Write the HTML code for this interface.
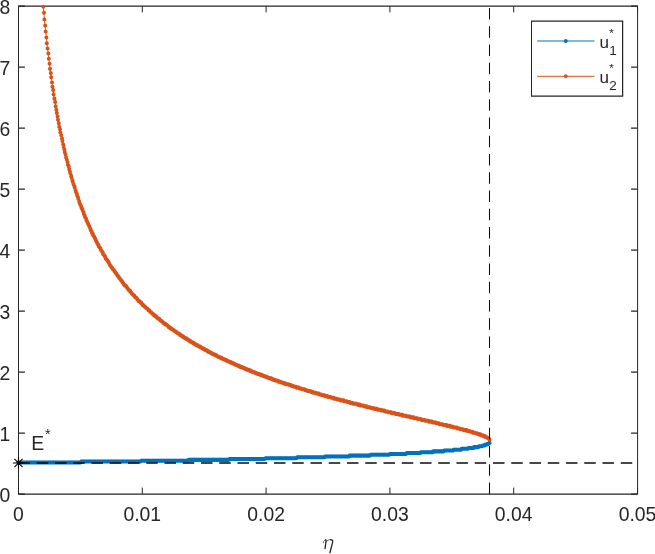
<!DOCTYPE html>
<html><head><meta charset="utf-8"><title>plot</title>
<style>
html,body{margin:0;padding:0;background:#fff;}
body{width:655px;height:554px;overflow:hidden;font-family:"Liberation Sans",sans-serif;}
svg{display:block;will-change:transform;}
text{font-family:"Liberation Sans",sans-serif;fill:#262626;}
.t{font-size:19.35px;}
</style></head><body>
<svg width="655" height="554" viewBox="0 0 655 554">
<rect width="655" height="554" fill="#fff"/>

<g stroke="#262626" fill="none">
<path d="M18.0,6.0H638.0 M18.0,494.0H638.0" stroke-width="1.25"/>
<path d="M18.5,6.0V494.0 M637.6,6.0V494.0" stroke-width="1"/>
<path d="M18.50,494.0v-6.4 M18.50,6.0v6.4 M142.30,494.0v-6.4 M142.30,6.0v6.4 M266.10,494.0v-6.4 M266.10,6.0v6.4 M389.90,494.0v-6.4 M389.90,6.0v6.4 M513.70,494.0v-6.4 M513.70,6.0v6.4 M637.50,494.0v-6.4 M637.50,6.0v6.4" stroke-width="1"/>
<path d="M18.5,494.06h6.4 M637.5,494.06h-6.4 M18.5,433.06h6.4 M637.5,433.06h-6.4 M18.5,372.06h6.4 M637.5,372.06h-6.4 M18.5,311.06h6.4 M637.5,311.06h-6.4 M18.5,250.06h6.4 M637.5,250.06h-6.4 M18.5,189.06h6.4 M637.5,189.06h-6.4 M18.5,128.06h6.4 M637.5,128.06h-6.4 M18.5,67.06h6.4 M637.5,67.06h-6.4 M18.5,6.06h6.4 M637.5,6.06h-6.4" stroke-width="1.3"/>
</g>
<g fill="none" stroke-linejoin="round">
<path d="M18.50,462.40 L19.12,462.40 L19.74,462.40 L20.36,462.40 L20.98,462.40 L21.59,462.40 L22.21,462.40 L22.83,462.40 L23.45,462.40 L24.07,462.40 L24.69,462.40 L25.31,462.39 L25.93,462.39 L26.55,462.39 L27.17,462.39 L27.79,462.39 L28.40,462.39 L29.02,462.39 L29.64,462.38 L30.26,462.38 L30.88,462.38 L31.50,462.38 L32.12,462.37 L32.74,462.37 L33.36,462.37 L33.98,462.37 L34.59,462.37 L35.21,462.36 L35.83,462.36 L36.45,462.36 L37.07,462.35 L37.69,462.35 L38.31,462.35 L38.93,462.34 L39.55,462.34 L40.16,462.34 L40.78,462.33 L41.40,462.33 L42.02,462.33 L42.64,462.32 L43.26,462.32 L43.88,462.32 L44.50,462.31 L45.12,462.31 L45.74,462.30 L46.36,462.30 L46.97,462.30 L47.59,462.29 L48.21,462.29 L48.83,462.28 L49.45,462.28 L50.07,462.27 L50.69,462.27 L51.31,462.26 L51.93,462.26 L52.55,462.25 L53.16,462.25 L53.78,462.24 L54.40,462.24 L55.02,462.23 L55.64,462.23 L56.26,462.22 L56.88,462.22 L57.50,462.21 L58.12,462.21 L58.74,462.20 L59.35,462.20 L59.97,462.19 L60.59,462.19 L61.21,462.18 L61.83,462.17 L62.45,462.17 L63.07,462.16 L63.69,462.16 L64.31,462.15 L64.93,462.15 L65.54,462.14 L66.16,462.13 L66.78,462.13 L67.40,462.12 L68.02,462.11 L68.64,462.11 L69.26,462.10 L69.88,462.10 L70.50,462.09 L71.12,462.08 L71.73,462.08 L72.35,462.07 L72.97,462.06 L73.59,462.06 L74.21,462.05 L74.83,462.04 L75.45,462.04 L76.07,462.03 L76.69,462.02 L77.31,462.02 L77.92,462.01 L78.54,462.00 L79.16,461.99 L79.78,461.99 L80.40,461.98 L81.02,461.97 L81.64,461.97 L82.26,461.96 L82.88,461.95 L83.50,461.94 L84.11,461.94 L84.73,461.93 L85.35,461.92 L85.97,461.91 L86.59,461.91 L87.21,461.90 L87.83,461.89 L88.45,461.88 L89.07,461.88 L89.69,461.87 L90.30,461.86 L90.92,461.85 L91.54,461.84 L92.16,461.84 L92.78,461.83 L93.40,461.82 L94.02,461.81 L94.64,461.80 L95.26,461.80 L95.88,461.79 L96.49,461.78 L97.11,461.77 L97.73,461.76 L98.35,461.76 L98.97,461.75 L99.59,461.74 L100.21,461.73 L100.83,461.72 L101.45,461.71 L102.06,461.71 L102.68,461.70 L103.30,461.69 L103.92,461.68 L104.54,461.67 L105.16,461.66 L105.78,461.65 L106.40,461.65 L107.02,461.64 L107.64,461.63 L108.26,461.62 L108.87,461.61 L109.49,461.60 L110.11,461.59 L110.73,461.58 L111.35,461.58 L111.97,461.57 L112.59,461.56 L113.21,461.55 L113.83,461.54 L114.44,461.53 L115.06,461.52 L115.68,461.51 L116.30,461.50 L116.92,461.49 L117.54,461.48 L118.16,461.48 L118.78,461.47 L119.40,461.46 L120.02,461.45 L120.64,461.44 L121.25,461.43 L121.87,461.42 L122.49,461.41 L123.11,461.40 L123.73,461.39 L124.35,461.38 L124.97,461.37 L125.59,461.36 L126.21,461.35 L126.83,461.34 L127.44,461.33 L128.06,461.32 L128.68,461.31 L129.30,461.31 L129.92,461.30 L130.54,461.29 L131.16,461.28 L131.78,461.27 L132.40,461.26 L133.02,461.25 L133.63,461.24 L134.25,461.23 L134.87,461.22 L135.49,461.21 L136.11,461.20 L136.73,461.19 L137.35,461.18 L137.97,461.17 L138.59,461.16 L139.20,461.15 L139.82,461.14 L140.44,461.13 L141.06,461.12 L141.68,461.11 L142.30,461.10 L142.92,461.09 L143.54,461.08 L144.16,461.07 L144.78,461.06 L145.40,461.04 L146.01,461.03 L146.63,461.02 L147.25,461.01 L147.87,461.00 L148.49,460.99 L149.11,460.98 L149.73,460.97 L150.35,460.96 L150.97,460.95 L151.59,460.94 L152.20,460.93 L152.82,460.92 L153.44,460.91 L154.06,460.90 L154.68,460.89 L155.30,460.88 L155.92,460.87 L156.54,460.85 L157.16,460.84 L157.78,460.83 L158.39,460.82 L159.01,460.81 L159.63,460.80 L160.25,460.79 L160.87,460.78 L161.49,460.77 L162.11,460.76 L162.73,460.75 L163.35,460.74 L163.97,460.72 L164.58,460.71 L165.20,460.70 L165.82,460.69 L166.44,460.68 L167.06,460.67 L167.68,460.66 L168.30,460.65 L168.92,460.63 L169.54,460.62 L170.16,460.61 L170.77,460.60 L171.39,460.59 L172.01,460.58 L172.63,460.57 L173.25,460.56 L173.87,460.54 L174.49,460.53 L175.11,460.52 L175.73,460.51 L176.34,460.50 L176.96,460.49 L177.58,460.48 L178.20,460.46 L178.82,460.45 L179.44,460.44 L180.06,460.43 L180.68,460.42 L181.30,460.41 L181.92,460.39 L182.54,460.38 L183.15,460.37 L183.77,460.36 L184.39,460.35 L185.01,460.33 L185.63,460.32 L186.25,460.31 L186.87,460.30 L187.49,460.29 L188.11,460.28 L188.72,460.26 L189.34,460.25 L189.96,460.24 L190.58,460.23 L191.20,460.22 L191.82,460.20 L192.44,460.19 L193.06,460.18 L193.68,460.17 L194.30,460.15 L194.92,460.14 L195.53,460.13 L196.15,460.12 L196.77,460.11 L197.39,460.09 L198.01,460.08 L198.63,460.07 L199.25,460.06 L199.87,460.04 L200.49,460.03 L201.11,460.02 L201.72,460.01 L202.34,459.99 L202.96,459.98 L203.58,459.97 L204.20,459.96 L204.82,459.94 L205.44,459.93 L206.06,459.92 L206.68,459.90 L207.30,459.89 L207.91,459.88 L208.53,459.87 L209.15,459.85 L209.77,459.84 L210.39,459.83 L211.01,459.82 L211.63,459.80 L212.25,459.79 L212.87,459.78 L213.49,459.76 L214.10,459.75 L214.72,459.74 L215.34,459.72 L215.96,459.71 L216.58,459.70 L217.20,459.68 L217.82,459.67 L218.44,459.66 L219.06,459.65 L219.68,459.63 L220.29,459.62 L220.91,459.61 L221.53,459.59 L222.15,459.58 L222.77,459.57 L223.39,459.55 L224.01,459.54 L224.63,459.52 L225.25,459.51 L225.87,459.50 L226.48,459.48 L227.10,459.47 L227.72,459.46 L228.34,459.44 L228.96,459.43 L229.58,459.42 L230.20,459.40 L230.82,459.39 L231.44,459.37 L232.06,459.36 L232.67,459.35 L233.29,459.33 L233.91,459.32 L234.53,459.30 L235.15,459.29 L235.77,459.28 L236.39,459.26 L237.01,459.25 L237.63,459.23 L238.25,459.22 L238.86,459.21 L239.48,459.19 L240.10,459.18 L240.72,459.16 L241.34,459.15 L241.96,459.13 L242.58,459.12 L243.20,459.11 L243.82,459.09 L244.44,459.08 L245.05,459.06 L245.67,459.05 L246.29,459.03 L246.91,459.02 L247.53,459.00 L248.15,458.99 L248.77,458.98 L249.39,458.96 L250.01,458.95 L250.62,458.93 L251.24,458.92 L251.86,458.90 L252.48,458.89 L253.10,458.87 L253.72,458.86 L254.34,458.84 L254.96,458.83 L255.58,458.81 L256.20,458.80 L256.81,458.78 L257.43,458.77 L258.05,458.75 L258.67,458.74 L259.29,458.72 L259.91,458.71 L260.53,458.69 L261.15,458.67 L261.77,458.66 L262.39,458.64 L263.00,458.63 L263.62,458.61 L264.24,458.60 L264.86,458.58 L265.48,458.57 L266.10,458.55 L266.72,458.53 L267.34,458.52 L267.96,458.50 L268.58,458.49 L269.20,458.47 L269.81,458.46 L270.43,458.44 L271.05,458.42 L271.67,458.41 L272.29,458.39 L272.91,458.38 L273.53,458.36 L274.15,458.34 L274.77,458.33 L275.38,458.31 L276.00,458.29 L276.62,458.28 L277.24,458.26 L277.86,458.25 L278.48,458.23 L279.10,458.21 L279.72,458.20 L280.34,458.18 L280.96,458.16 L281.58,458.15 L282.19,458.13 L282.81,458.11 L283.43,458.10 L284.05,458.08 L284.67,458.06 L285.29,458.05 L285.91,458.03 L286.53,458.01 L287.15,457.99 L287.77,457.98 L288.38,457.96 L289.00,457.94 L289.62,457.93 L290.24,457.91 L290.86,457.89 L291.48,457.87 L292.10,457.86 L292.72,457.84 L293.34,457.82 L293.96,457.80 L294.57,457.79 L295.19,457.77 L295.81,457.75 L296.43,457.73 L297.05,457.72 L297.67,457.70 L298.29,457.68 L298.91,457.66 L299.53,457.65 L300.14,457.63 L300.76,457.61 L301.38,457.59 L302.00,457.57 L302.62,457.55 L303.24,457.54 L303.86,457.52 L304.48,457.50 L305.10,457.48 L305.72,457.46 L306.33,457.44 L306.95,457.43 L307.57,457.41 L308.19,457.39 L308.81,457.37 L309.43,457.35 L310.05,457.33 L310.67,457.31 L311.29,457.30 L311.91,457.28 L312.52,457.26 L313.14,457.24 L313.76,457.22 L314.38,457.20 L315.00,457.18 L315.62,457.16 L316.24,457.14 L316.86,457.12 L317.48,457.10 L318.10,457.08 L318.72,457.06 L319.33,457.04 L319.95,457.03 L320.57,457.01 L321.19,456.99 L321.81,456.97 L322.43,456.95 L323.05,456.93 L323.67,456.91 L324.29,456.89 L324.91,456.87 L325.52,456.85 L326.14,456.83 L326.76,456.81 L327.38,456.78 L328.00,456.76 L328.62,456.74 L329.24,456.72 L329.86,456.70 L330.48,456.68 L331.10,456.66 L331.71,456.64 L332.33,456.62 L332.95,456.60 L333.57,456.58 L334.19,456.56 L334.81,456.54 L335.43,456.51 L336.05,456.49 L336.67,456.47 L337.29,456.45 L337.90,456.43 L338.52,456.41 L339.14,456.39 L339.76,456.36 L340.38,456.34 L341.00,456.32 L341.62,456.30 L342.24,456.28 L342.86,456.25 L343.48,456.23 L344.09,456.21 L344.71,456.19 L345.33,456.16 L345.95,456.14 L346.57,456.12 L347.19,456.10 L347.81,456.07 L348.43,456.05 L349.05,456.03 L349.67,456.01 L350.28,455.98 L350.90,455.96 L351.52,455.94 L352.14,455.91 L352.76,455.89 L353.38,455.87 L354.00,455.84 L354.62,455.82 L355.24,455.80 L355.86,455.77 L356.47,455.75 L357.09,455.72 L357.71,455.70 L358.33,455.68 L358.95,455.65 L359.57,455.63 L360.19,455.60 L360.81,455.58 L361.43,455.55 L362.05,455.53 L362.66,455.51 L363.28,455.48 L363.90,455.46 L364.52,455.43 L365.14,455.41 L365.76,455.38 L366.38,455.35 L367.00,455.33 L367.62,455.30 L368.24,455.28 L368.85,455.25 L369.47,455.23 L370.09,455.20 L370.71,455.17 L371.33,455.15 L371.95,455.12 L372.57,455.10 L373.19,455.07 L373.81,455.04 L374.43,455.02 L375.04,454.99 L375.66,454.96 L376.28,454.94 L376.90,454.91 L377.52,454.88 L378.14,454.85 L378.76,454.83 L379.38,454.80 L380.00,454.77 L380.62,454.74 L381.23,454.72 L381.85,454.69 L382.47,454.66 L383.09,454.63 L383.71,454.60 L384.33,454.57 L384.95,454.55 L385.57,454.52 L386.19,454.49 L386.81,454.46 L387.42,454.43 L388.04,454.40 L388.66,454.37 L389.28,454.34 L389.90,454.31 L390.52,454.28 L391.14,454.25 L391.76,454.22 L392.38,454.19 L393.00,454.16 L393.61,454.13 L394.23,454.10 L394.85,454.07 L395.47,454.04 L396.09,454.01 L396.71,453.97 L397.33,453.94 L397.95,453.91 L398.57,453.88 L399.19,453.85 L399.80,453.82 L400.42,453.78 L401.04,453.75 L401.66,453.72 L402.28,453.69 L402.90,453.65 L403.52,453.62 L404.14,453.59 L404.76,453.55 L405.38,453.52 L405.99,453.48 L406.61,453.45 L407.23,453.42 L407.85,453.38 L408.47,453.35 L409.09,453.31 L409.71,453.28 L410.33,453.24 L410.95,453.21 L411.56,453.17 L412.18,453.14 L412.80,453.10 L413.42,453.06 L414.04,453.03 L414.66,452.99 L415.28,452.95 L415.90,452.92 L416.52,452.88 L417.14,452.84 L417.75,452.80 L418.37,452.77 L418.99,452.73 L419.61,452.69 L420.23,452.65 L420.85,452.61 L421.47,452.57 L422.09,452.53 L422.71,452.49 L423.33,452.45 L423.94,452.41 L424.56,452.37 L425.18,452.33 L425.80,452.29 L426.42,452.25 L427.04,452.21 L427.66,452.16 L428.28,452.12 L428.90,452.08 L429.52,452.04 L430.14,451.99 L430.75,451.95 L431.37,451.90 L431.99,451.86 L432.61,451.82 L433.23,451.77 L433.85,451.73 L434.47,451.68 L435.09,451.63 L435.71,451.59 L436.33,451.54 L436.94,451.49 L437.56,451.45 L438.18,451.40 L438.80,451.35 L439.42,451.30 L440.04,451.25 L440.66,451.20 L441.28,451.15 L441.90,451.10 L442.52,451.05 L443.13,451.00 L443.75,450.95 L444.37,450.90 L444.99,450.84 L445.61,450.79 L446.23,450.74 L446.85,450.68 L447.47,450.63 L448.09,450.57 L448.71,450.52 L449.32,450.46 L449.94,450.40 L450.56,450.35 L451.18,450.29 L451.80,450.23 L452.42,450.17 L453.04,450.11 L453.66,450.05 L454.28,449.99 L454.90,449.92 L455.51,449.86 L456.13,449.80 L456.75,449.73 L457.37,449.67 L457.99,449.60 L458.61,449.54 L459.23,449.47 L459.85,449.40 L460.47,449.33 L461.09,449.26 L461.70,449.19 L462.32,449.11 L462.94,449.04 L463.56,448.97 L464.18,448.89 L464.80,448.81 L465.42,448.73 L466.04,448.65 L466.66,448.57 L467.28,448.49 L467.89,448.41 L468.51,448.32 L469.13,448.24 L469.75,448.15 L470.37,448.06 L470.99,447.96 L471.61,447.87 L472.23,447.78 L472.85,447.68 L473.47,447.58 L474.08,447.48 L474.70,447.37 L475.32,447.26 L475.94,447.15 L476.56,447.04 L477.18,446.92 L477.80,446.80 L478.42,446.68 L479.04,446.55 L479.65,446.42 L480.27,446.29 L480.89,446.15 L481.51,446.00 L482.13,445.85 L482.75,445.69 L483.37,445.52 L483.99,445.34 L484.61,445.16 L485.23,444.96 L485.84,444.75 L486.46,444.52 L487.08,444.27 L487.70,444.00 L488.32,443.69 L488.94,443.32 L489.56,442.87" stroke="#0072BD" stroke-width="1"/>
<path transform="scale(1,1.0)" d="M18.40,462.40h0 M19.20,462.40h0 M19.60,462.40h0 M20.40,462.40h0 M20.80,462.40h0 M21.60,462.40h0 M22.40,462.40h0 M22.80,462.40h0 M23.60,462.40h0 M24.00,462.40h0 M24.80,462.40h0 M25.20,462.40h0 M26.00,462.40h0 M26.40,462.40h0 M27.20,462.40h0 M27.60,462.40h0 M28.40,462.40h0 M29.20,462.40h0 M29.60,462.40h0 M30.40,462.40h0 M30.80,462.40h0 M31.60,462.40h0 M32.00,462.40h0 M32.80,462.40h0 M33.20,462.40h0 M34.00,462.40h0 M34.40,462.40h0 M35.20,462.40h0 M36.00,462.40h0 M36.40,462.40h0 M37.20,462.40h0 M37.60,462.40h0 M38.40,462.40h0 M38.80,462.40h0 M39.60,462.40h0 M40.00,462.40h0 M40.80,462.40h0 M41.60,462.40h0 M42.00,462.40h0 M42.80,462.40h0 M43.20,462.40h0 M44.00,462.40h0 M44.40,462.40h0 M45.20,462.40h0 M45.60,462.40h0 M46.40,462.40h0 M46.80,462.40h0 M47.60,462.40h0 M48.40,462.40h0 M48.80,462.40h0 M49.60,462.40h0 M50.00,462.40h0 M50.80,462.40h0 M51.20,462.40h0 M52.00,462.40h0 M52.40,462.40h0 M53.20,462.40h0 M53.60,462.40h0 M54.40,462.40h0 M55.20,462.40h0 M55.60,462.40h0 M56.40,462.40h0 M56.80,462.40h0 M57.60,462.40h0 M58.00,462.40h0 M58.80,462.40h0 M59.20,462.40h0 M60.00,462.40h0 M60.40,462.40h0 M61.20,462.40h0 M62.00,462.40h0 M62.40,462.40h0 M63.20,462.40h0 M63.60,462.40h0 M64.40,462.40h0 M64.80,462.40h0 M65.60,462.40h0 M66.00,462.40h0 M66.80,462.40h0 M67.60,462.40h0 M68.00,462.40h0 M68.80,462.40h0 M69.20,462.40h0 M70.00,462.40h0 M70.40,462.40h0 M71.20,462.40h0 M71.60,462.40h0 M72.40,462.40h0 M72.80,462.40h0 M73.60,462.40h0 M74.40,462.40h0 M74.80,462.40h0 M75.60,462.40h0 M76.00,462.40h0 M76.80,462.40h0 M77.20,462.40h0 M78.00,462.40h0 M78.40,462.40h0 M79.20,462.40h0 M79.60,462.40h0 M80.40,462.40h0 M81.20,461.55h0 M81.60,461.55h0 M82.40,461.55h0 M82.80,461.55h0 M83.60,461.55h0 M84.00,461.55h0 M84.80,461.55h0 M85.20,461.55h0 M86.00,461.55h0 M86.40,461.55h0 M87.20,461.55h0 M88.00,461.55h0 M88.40,461.55h0 M89.20,461.55h0 M89.60,461.55h0 M90.40,461.55h0 M90.80,461.55h0 M91.60,461.55h0 M92.00,461.55h0 M92.80,461.55h0 M93.20,461.55h0 M94.00,461.55h0 M94.80,461.55h0 M95.20,461.55h0 M96.00,461.55h0 M96.40,461.55h0 M97.20,461.55h0 M97.60,461.55h0 M98.40,461.55h0 M98.80,461.55h0 M99.60,461.55h0 M100.40,461.55h0 M100.80,461.55h0 M101.60,461.55h0 M102.00,461.55h0 M102.80,461.55h0 M103.20,461.55h0 M104.00,461.55h0 M104.40,461.55h0 M105.20,461.55h0 M105.60,461.55h0 M106.40,461.55h0 M107.20,461.55h0 M107.60,461.55h0 M108.40,461.55h0 M108.80,461.55h0 M109.60,461.55h0 M110.00,461.55h0 M110.80,461.55h0 M111.20,461.55h0 M112.00,461.55h0 M112.40,461.55h0 M113.20,461.55h0 M114.00,461.55h0 M114.40,461.55h0 M115.20,461.55h0 M115.60,461.55h0 M116.40,461.55h0 M116.80,461.55h0 M117.60,461.55h0 M118.00,461.55h0 M118.80,461.55h0 M119.20,461.55h0 M120.00,461.55h0 M120.80,461.55h0 M121.20,461.55h0 M122.00,461.55h0 M122.40,461.55h0 M123.20,461.55h0 M123.60,461.55h0 M124.40,461.55h0 M124.80,461.55h0 M125.60,461.55h0 M126.40,461.55h0 M126.80,461.55h0 M127.60,461.55h0 M128.00,461.55h0 M128.80,461.55h0 M129.20,461.55h0 M130.00,461.55h0 M130.40,461.55h0 M131.20,461.55h0 M131.60,461.55h0 M132.40,461.55h0 M133.20,461.55h0 M133.60,461.55h0 M134.40,461.55h0 M134.80,461.55h0 M135.60,461.55h0 M136.00,461.55h0 M136.80,461.55h0 M137.20,461.55h0 M138.00,461.55h0 M138.40,461.55h0 M139.20,461.55h0 M140.00,461.55h0 M140.40,461.55h0 M141.20,460.70h0 M141.60,460.70h0 M142.40,460.70h0 M142.80,460.70h0 M143.60,460.70h0 M144.00,460.70h0 M144.80,460.70h0 M145.20,460.70h0 M146.00,460.70h0 M146.80,460.70h0 M147.20,460.70h0 M148.00,460.70h0 M148.40,460.70h0 M149.20,460.70h0 M149.60,460.70h0 M150.40,460.70h0 M150.80,460.70h0 M151.60,460.70h0 M152.40,460.70h0 M152.80,460.70h0 M153.60,460.70h0 M154.00,460.70h0 M154.80,460.70h0 M155.20,460.70h0 M156.00,460.70h0 M156.40,460.70h0 M157.20,460.70h0 M157.60,460.70h0 M158.40,460.70h0 M159.20,460.70h0 M159.60,460.70h0 M160.40,460.70h0 M160.80,460.70h0 M161.60,460.70h0 M162.00,460.70h0 M162.80,460.70h0 M163.20,460.70h0 M164.00,460.70h0 M164.40,460.70h0 M165.20,460.70h0 M166.00,460.70h0 M166.40,460.70h0 M167.20,460.70h0 M167.60,460.70h0 M168.40,460.70h0 M168.80,460.70h0 M169.60,460.70h0 M170.00,460.70h0 M170.80,460.70h0 M171.20,460.70h0 M172.00,460.70h0 M172.80,460.70h0 M173.20,460.70h0 M174.00,460.70h0 M174.40,460.70h0 M175.20,460.70h0 M175.60,460.70h0 M176.40,460.70h0 M176.80,460.70h0 M177.60,460.70h0 M178.40,460.70h0 M178.80,460.70h0 M179.60,460.70h0 M180.00,460.70h0 M180.80,460.70h0 M181.20,460.70h0 M182.00,460.70h0 M182.40,460.70h0 M183.20,460.70h0 M183.60,460.70h0 M184.40,460.70h0 M185.20,460.70h0 M185.60,460.70h0 M186.40,460.70h0 M186.80,460.70h0 M187.60,460.70h0 M188.00,460.70h0 M188.80,459.85h0 M189.20,459.85h0 M190.00,459.85h0 M190.40,459.85h0 M191.20,459.85h0 M192.00,459.85h0 M192.40,459.85h0 M193.20,459.85h0 M193.60,459.85h0 M194.40,459.85h0 M194.80,459.85h0 M195.60,459.85h0 M196.00,459.85h0 M196.80,459.85h0 M197.20,459.85h0 M198.00,459.85h0 M198.80,459.85h0 M199.20,459.85h0 M200.00,459.85h0 M200.40,459.85h0 M201.20,459.85h0 M201.60,459.85h0 M202.40,459.85h0 M202.80,459.85h0 M203.60,459.85h0 M204.00,459.85h0 M204.80,459.85h0 M205.60,459.85h0 M206.00,459.85h0 M206.80,459.85h0 M207.20,459.85h0 M208.00,459.85h0 M208.40,459.85h0 M209.20,459.85h0 M209.60,459.85h0 M210.40,459.85h0 M211.20,459.85h0 M211.60,459.85h0 M212.40,459.85h0 M212.80,459.85h0 M213.60,459.85h0 M214.00,459.85h0 M214.80,459.85h0 M215.20,459.85h0 M216.00,459.85h0 M216.40,459.85h0 M217.20,459.85h0 M218.00,459.85h0 M218.40,459.85h0 M219.20,459.85h0 M219.60,459.85h0 M220.40,459.85h0 M220.80,459.85h0 M221.60,459.85h0 M222.00,459.85h0 M222.80,459.85h0 M223.20,459.85h0 M224.00,459.85h0 M224.80,459.85h0 M225.20,459.85h0 M226.00,459.85h0 M226.40,459.85h0 M227.20,459.85h0 M227.60,459.85h0 M228.40,459.85h0 M228.80,459.85h0 M229.60,459.00h0 M230.00,459.00h0 M230.80,459.00h0 M231.60,459.00h0 M232.00,459.00h0 M232.80,459.00h0 M233.20,459.00h0 M234.00,459.00h0 M234.40,459.00h0 M235.20,459.00h0 M235.60,459.00h0 M236.40,459.00h0 M237.20,459.00h0 M237.60,459.00h0 M238.40,459.00h0 M238.80,459.00h0 M239.60,459.00h0 M240.00,459.00h0 M240.80,459.00h0 M241.20,459.00h0 M242.00,459.00h0 M242.40,459.00h0 M243.20,459.00h0 M244.00,459.00h0 M244.40,459.00h0 M245.20,459.00h0 M245.60,459.00h0 M246.40,459.00h0 M246.80,459.00h0 M247.60,459.00h0 M248.00,459.00h0 M248.80,459.00h0 M249.20,459.00h0 M250.00,459.00h0 M250.80,459.00h0 M251.20,459.00h0 M252.00,459.00h0 M252.40,459.00h0 M253.20,459.00h0 M253.60,459.00h0 M254.40,459.00h0 M254.80,459.00h0 M255.60,459.00h0 M256.00,459.00h0 M256.80,459.00h0 M257.60,459.00h0 M258.00,459.00h0 M258.80,459.00h0 M259.20,459.00h0 M260.00,459.00h0 M260.40,459.00h0 M261.20,459.00h0 M261.60,459.00h0 M262.40,459.00h0 M263.20,459.00h0 M263.60,459.00h0 M264.40,459.00h0 M264.80,459.00h0 M265.60,458.15h0 M266.00,458.15h0 M266.80,458.15h0 M267.20,458.15h0 M268.00,458.15h0 M268.40,458.15h0 M269.20,458.15h0 M270.00,458.15h0 M270.40,458.15h0 M271.20,458.15h0 M271.60,458.15h0 M272.40,458.15h0 M272.80,458.15h0 M273.60,458.15h0 M274.00,458.15h0 M274.80,458.15h0 M275.20,458.15h0 M276.00,458.15h0 M276.80,458.15h0 M277.20,458.15h0 M278.00,458.15h0 M278.40,458.15h0 M279.20,458.15h0 M279.60,458.15h0 M280.40,458.15h0 M280.80,458.15h0 M281.60,458.15h0 M282.00,458.15h0 M282.80,458.15h0 M283.60,458.15h0 M284.00,458.15h0 M284.80,458.15h0 M285.20,458.15h0 M286.00,458.15h0 M286.40,458.15h0 M287.20,458.15h0 M287.60,458.15h0 M288.40,458.15h0 M289.20,458.15h0 M289.60,458.15h0 M290.40,458.15h0 M290.80,458.15h0 M291.60,458.15h0 M292.00,458.15h0 M292.80,458.15h0 M293.20,458.15h0 M294.00,458.15h0 M294.40,458.15h0 M295.20,458.15h0 M296.00,458.15h0 M296.40,458.15h0 M297.20,457.30h0 M297.60,457.30h0 M298.40,457.30h0 M298.80,457.30h0 M299.60,457.30h0 M300.00,457.30h0 M300.80,457.30h0 M301.20,457.30h0 M302.00,457.30h0 M302.80,457.30h0 M303.20,457.30h0 M304.00,457.30h0 M304.40,457.30h0 M305.20,457.30h0 M305.60,457.30h0 M306.40,457.30h0 M306.80,457.30h0 M307.60,457.30h0 M308.00,457.30h0 M308.80,457.30h0 M309.60,457.30h0 M310.00,457.30h0 M310.80,457.30h0 M311.20,457.30h0 M312.00,457.30h0 M312.40,457.30h0 M313.20,457.30h0 M313.60,457.30h0 M314.40,457.30h0 M315.20,457.30h0 M315.60,457.30h0 M316.40,457.30h0 M316.80,457.30h0 M317.60,457.30h0 M318.00,457.30h0 M318.80,457.30h0 M319.20,457.30h0 M320.00,457.30h0 M320.40,457.30h0 M321.20,457.30h0 M322.00,457.30h0 M322.40,457.30h0 M323.20,457.30h0 M323.60,457.30h0 M324.40,457.30h0 M324.80,456.45h0 M325.60,456.45h0 M326.00,456.45h0 M326.80,456.45h0 M327.20,456.45h0 M328.00,456.45h0 M328.80,456.45h0 M329.20,456.45h0 M330.00,456.45h0 M330.40,456.45h0 M331.20,456.45h0 M331.60,456.45h0 M332.40,456.45h0 M332.80,456.45h0 M333.60,456.45h0 M334.00,456.45h0 M334.80,456.45h0 M335.60,456.45h0 M336.00,456.45h0 M336.80,456.45h0 M337.20,456.45h0 M338.00,456.45h0 M338.40,456.45h0 M339.20,456.45h0 M339.60,456.45h0 M340.40,456.45h0 M340.80,456.45h0 M341.60,456.45h0 M342.40,456.45h0 M342.80,456.45h0 M343.60,456.45h0 M344.00,456.45h0 M344.80,456.45h0 M345.20,456.45h0 M346.00,456.45h0 M346.40,456.45h0 M347.20,456.45h0 M348.00,456.45h0 M348.40,456.45h0 M349.20,456.45h0 M349.60,455.60h0 M350.40,455.60h0 M350.80,455.60h0 M351.60,455.60h0 M352.00,455.60h0 M352.80,455.60h0 M353.20,455.60h0 M354.00,455.60h0 M354.80,455.60h0 M355.20,455.60h0 M356.00,455.60h0 M356.40,455.60h0 M357.20,455.60h0 M357.60,455.60h0 M358.40,455.60h0 M358.80,455.60h0 M359.60,455.60h0 M360.00,455.60h0 M360.80,455.60h0 M361.60,455.60h0 M362.00,455.60h0 M362.80,455.60h0 M363.20,455.60h0 M364.00,455.60h0 M364.40,455.60h0 M365.20,455.60h0 M365.60,455.60h0 M366.40,455.60h0 M366.80,455.60h0 M367.60,455.60h0 M368.40,455.60h0 M368.80,455.60h0 M369.60,455.60h0 M370.00,455.60h0 M370.80,454.75h0 M371.20,454.75h0 M372.00,454.75h0 M372.40,454.75h0 M373.20,454.75h0 M374.00,454.75h0 M374.40,454.75h0 M375.20,454.75h0 M375.60,454.75h0 M376.40,454.75h0 M376.80,454.75h0 M377.60,454.75h0 M378.00,454.75h0 M378.80,454.75h0 M379.20,454.75h0 M380.00,454.75h0 M380.80,454.75h0 M381.20,454.75h0 M382.00,454.75h0 M382.40,454.75h0 M383.20,454.75h0 M383.60,454.75h0 M384.40,454.75h0 M384.80,454.75h0 M385.60,454.75h0 M386.00,454.75h0 M386.80,454.75h0 M387.60,454.75h0 M388.00,454.75h0 M388.80,454.75h0 M389.20,454.75h0 M390.00,453.90h0 M390.40,453.90h0 M391.20,453.90h0 M391.60,453.90h0 M392.40,453.90h0 M392.80,453.90h0 M393.60,453.90h0 M394.40,453.90h0 M394.80,453.90h0 M395.60,453.90h0 M396.00,453.90h0 M396.80,453.90h0 M397.20,453.90h0 M398.00,453.90h0 M398.40,453.90h0 M399.20,453.90h0 M400.00,453.90h0 M400.40,453.90h0 M401.20,453.90h0 M401.60,453.90h0 M402.40,453.90h0 M402.80,453.90h0 M403.60,453.90h0 M404.00,453.90h0 M404.80,453.90h0 M405.20,453.90h0 M406.00,453.90h0 M406.80,453.05h0 M407.20,453.05h0 M408.00,453.05h0 M408.40,453.05h0 M409.20,453.05h0 M409.60,453.05h0 M410.40,453.05h0 M410.80,453.05h0 M411.60,453.05h0 M412.00,453.05h0 M412.80,453.05h0 M413.60,453.05h0 M414.00,453.05h0 M414.80,453.05h0 M415.20,453.05h0 M416.00,453.05h0 M416.40,453.05h0 M417.20,453.05h0 M417.60,453.05h0 M418.40,453.05h0 M418.80,453.05h0 M419.60,453.05h0 M420.40,453.05h0 M420.80,452.20h0 M421.60,452.20h0 M422.00,452.20h0 M422.80,452.20h0 M423.20,452.20h0 M424.00,452.20h0 M424.40,452.20h0 M425.20,452.20h0 M426.00,452.20h0 M426.40,452.20h0 M427.20,452.20h0 M427.60,452.20h0 M428.40,452.20h0 M428.80,452.20h0 M429.60,452.20h0 M430.00,452.20h0 M430.80,452.20h0 M431.20,452.20h0 M432.00,452.20h0 M432.80,452.20h0 M433.20,451.35h0 M434.00,451.35h0 M434.40,451.35h0 M435.20,451.35h0 M435.60,451.35h0 M436.40,451.35h0 M436.80,451.35h0 M437.60,451.35h0 M438.00,451.35h0 M438.80,451.35h0 M439.60,451.35h0 M440.00,451.35h0 M440.80,451.35h0 M441.20,451.35h0 M442.00,451.35h0 M442.40,451.35h0 M443.20,451.35h0 M443.60,451.35h0 M444.40,450.50h0 M444.80,450.50h0 M445.60,450.50h0 M446.40,450.50h0 M446.80,450.50h0 M447.60,450.50h0 M448.00,450.50h0 M448.80,450.50h0 M449.20,450.50h0 M450.00,450.50h0 M450.40,450.50h0 M451.20,450.50h0 M452.00,450.50h0 M452.40,450.50h0 M453.20,450.50h0 M453.60,449.65h0 M454.40,449.65h0 M454.80,449.65h0 M455.60,449.65h0 M456.00,449.65h0 M456.80,449.65h0 M457.20,449.65h0 M458.00,449.65h0 M458.80,449.65h0 M459.20,449.65h0 M460.00,449.65h0 M460.40,449.65h0 M461.20,449.65h0 M461.60,448.80h0 M462.40,448.80h0 M462.80,448.80h0 M463.60,448.80h0 M464.00,448.80h0 M464.80,448.80h0 M465.60,448.80h0 M466.00,448.80h0 M466.80,448.80h0 M467.20,448.80h0 M468.00,448.80h0 M468.40,447.95h0 M469.20,447.95h0 M469.60,447.95h0 M470.40,447.95h0 M470.80,447.95h0 M471.60,447.95h0 M472.40,447.95h0 M472.80,447.95h0 M473.60,447.95h0 M474.00,447.10h0 M474.80,447.10h0 M475.20,447.10h0 M476.00,447.10h0 M476.40,447.10h0 M477.20,447.10h0 M477.60,447.10h0 M478.40,447.10h0 M479.20,446.25h0 M479.60,446.25h0 M480.40,446.25h0 M480.80,446.25h0 M481.60,446.25h0 M482.00,446.25h0 M482.80,445.40h0 M483.20,445.40h0 M484.00,445.40h0 M484.80,445.40h0 M485.20,444.55h0 M486.00,444.55h0 M486.40,444.55h0 M487.20,444.55h0 M487.60,443.70h0 M488.40,443.70h0 M488.80,443.70h0 M489.60,442.85h0" stroke="#0072BD" stroke-width="4.05" stroke-linecap="round"/>
<path d="M43.26,6.46 L43.88,13.17 L44.50,19.62 L45.12,25.84 L45.74,31.84 L46.36,37.64 L46.97,43.23 L47.59,48.65 L48.21,53.88 L48.83,58.95 L49.45,63.87 L50.07,68.64 L50.69,73.26 L51.31,77.75 L51.93,82.11 L52.55,86.35 L53.16,90.47 L53.78,94.49 L54.40,98.39 L55.02,102.20 L55.64,105.90 L56.26,109.52 L56.88,113.04 L57.50,116.48 L58.12,119.84 L58.74,123.12 L59.35,126.32 L59.97,129.45 L60.59,132.51 L61.21,135.50 L61.83,138.42 L62.45,141.29 L63.07,144.09 L63.69,146.84 L64.31,149.52 L64.93,152.16 L65.54,154.74 L66.16,157.27 L66.78,159.75 L67.40,162.18 L68.02,164.57 L68.64,166.91 L69.26,169.21 L69.88,171.47 L70.50,173.69 L71.12,175.86 L71.73,178.00 L72.35,180.10 L72.97,182.17 L73.59,184.20 L74.21,186.20 L74.83,188.16 L75.45,190.09 L76.07,191.99 L76.69,193.86 L77.31,195.70 L77.92,197.52 L78.54,199.30 L79.16,201.06 L79.78,202.79 L80.40,204.49 L81.02,206.17 L81.64,207.83 L82.26,209.46 L82.88,211.07 L83.50,212.65 L84.11,214.21 L84.73,215.76 L85.35,217.28 L85.97,218.77 L86.59,220.25 L87.21,221.71 L87.83,223.15 L88.45,224.57 L89.07,225.97 L89.69,227.36 L90.30,228.72 L90.92,230.07 L91.54,231.40 L92.16,232.72 L92.78,234.02 L93.40,235.30 L94.02,236.57 L94.64,237.82 L95.26,239.05 L95.88,240.28 L96.49,241.48 L97.11,242.68 L97.73,243.86 L98.35,245.02 L98.97,246.18 L99.59,247.32 L100.21,248.44 L100.83,249.56 L101.45,250.66 L102.06,251.75 L102.68,252.83 L103.30,253.89 L103.92,254.95 L104.54,255.99 L105.16,257.02 L105.78,258.05 L106.40,259.06 L107.02,260.06 L107.64,261.05 L108.26,262.03 L108.87,263.00 L109.49,263.96 L110.11,264.91 L110.73,265.85 L111.35,266.78 L111.97,267.71 L112.59,268.62 L113.21,269.53 L113.83,270.42 L114.44,271.31 L115.06,272.19 L115.68,273.06 L116.30,273.92 L116.92,274.78 L117.54,275.63 L118.16,276.46 L118.78,277.30 L119.40,278.12 L120.02,278.94 L120.64,279.75 L121.25,280.55 L121.87,281.34 L122.49,282.13 L123.11,282.91 L123.73,283.69 L124.35,284.46 L124.97,285.22 L125.59,285.97 L126.21,286.72 L126.83,287.46 L127.44,288.20 L128.06,288.93 L128.68,289.65 L129.30,290.37 L129.92,291.08 L130.54,291.79 L131.16,292.49 L131.78,293.18 L132.40,293.87 L133.02,294.56 L133.63,295.23 L134.25,295.91 L134.87,296.58 L135.49,297.24 L136.11,297.90 L136.73,298.55 L137.35,299.20 L137.97,299.84 L138.59,300.48 L139.20,301.11 L139.82,301.74 L140.44,302.36 L141.06,302.98 L141.68,303.59 L142.30,304.20 L142.92,304.81 L143.54,305.41 L144.16,306.01 L144.78,306.60 L145.40,307.19 L146.01,307.77 L146.63,308.35 L147.25,308.93 L147.87,309.50 L148.49,310.07 L149.11,310.63 L149.73,311.19 L150.35,311.75 L150.97,312.30 L151.59,312.85 L152.20,313.39 L152.82,313.93 L153.44,314.47 L154.06,315.00 L154.68,315.53 L155.30,316.06 L155.92,316.59 L156.54,317.11 L157.16,317.62 L157.78,318.14 L158.39,318.65 L159.01,319.15 L159.63,319.66 L160.25,320.16 L160.87,320.65 L161.49,321.15 L162.11,321.64 L162.73,322.13 L163.35,322.61 L163.97,323.09 L164.58,323.57 L165.20,324.05 L165.82,324.52 L166.44,324.99 L167.06,325.46 L167.68,325.92 L168.30,326.38 L168.92,326.84 L169.54,327.30 L170.16,327.75 L170.77,328.20 L171.39,328.65 L172.01,329.10 L172.63,329.54 L173.25,329.98 L173.87,330.42 L174.49,330.86 L175.11,331.29 L175.73,331.72 L176.34,332.15 L176.96,332.57 L177.58,333.00 L178.20,333.42 L178.82,333.84 L179.44,334.25 L180.06,334.67 L180.68,335.08 L181.30,335.49 L181.92,335.90 L182.54,336.30 L183.15,336.70 L183.77,337.10 L184.39,337.50 L185.01,337.90 L185.63,338.29 L186.25,338.69 L186.87,339.08 L187.49,339.46 L188.11,339.85 L188.72,340.23 L189.34,340.62 L189.96,341.00 L190.58,341.37 L191.20,341.75 L191.82,342.13 L192.44,342.50 L193.06,342.87 L193.68,343.24 L194.30,343.60 L194.92,343.97 L195.53,344.33 L196.15,344.69 L196.77,345.05 L197.39,345.41 L198.01,345.77 L198.63,346.12 L199.25,346.47 L199.87,346.82 L200.49,347.17 L201.11,347.52 L201.72,347.87 L202.34,348.21 L202.96,348.55 L203.58,348.89 L204.20,349.23 L204.82,349.57 L205.44,349.91 L206.06,350.24 L206.68,350.57 L207.30,350.91 L207.91,351.24 L208.53,351.56 L209.15,351.89 L209.77,352.22 L210.39,352.54 L211.01,352.86 L211.63,353.18 L212.25,353.50 L212.87,353.82 L213.49,354.14 L214.10,354.45 L214.72,354.77 L215.34,355.08 L215.96,355.39 L216.58,355.70 L217.20,356.01 L217.82,356.32 L218.44,356.62 L219.06,356.93 L219.68,357.23 L220.29,357.53 L220.91,357.83 L221.53,358.13 L222.15,358.43 L222.77,358.73 L223.39,359.02 L224.01,359.32 L224.63,359.61 L225.25,359.90 L225.87,360.19 L226.48,360.48 L227.10,360.77 L227.72,361.05 L228.34,361.34 L228.96,361.63 L229.58,361.91 L230.20,362.19 L230.82,362.47 L231.44,362.75 L232.06,363.03 L232.67,363.31 L233.29,363.59 L233.91,363.86 L234.53,364.14 L235.15,364.41 L235.77,364.68 L236.39,364.95 L237.01,365.22 L237.63,365.49 L238.25,365.76 L238.86,366.03 L239.48,366.29 L240.10,366.56 L240.72,366.82 L241.34,367.09 L241.96,367.35 L242.58,367.61 L243.20,367.87 L243.82,368.13 L244.44,368.39 L245.05,368.64 L245.67,368.90 L246.29,369.15 L246.91,369.41 L247.53,369.66 L248.15,369.91 L248.77,370.17 L249.39,370.42 L250.01,370.67 L250.62,370.91 L251.24,371.16 L251.86,371.41 L252.48,371.66 L253.10,371.90 L253.72,372.15 L254.34,372.39 L254.96,372.63 L255.58,372.87 L256.20,373.11 L256.81,373.35 L257.43,373.59 L258.05,373.83 L258.67,374.07 L259.29,374.31 L259.91,374.54 L260.53,374.78 L261.15,375.01 L261.77,375.25 L262.39,375.48 L263.00,375.71 L263.62,375.94 L264.24,376.17 L264.86,376.40 L265.48,376.63 L266.10,376.86 L266.72,377.09 L267.34,377.31 L267.96,377.54 L268.58,377.76 L269.20,377.99 L269.81,378.21 L270.43,378.43 L271.05,378.66 L271.67,378.88 L272.29,379.10 L272.91,379.32 L273.53,379.54 L274.15,379.76 L274.77,379.98 L275.38,380.19 L276.00,380.41 L276.62,380.63 L277.24,380.84 L277.86,381.06 L278.48,381.27 L279.10,381.48 L279.72,381.70 L280.34,381.91 L280.96,382.12 L281.58,382.33 L282.19,382.54 L282.81,382.75 L283.43,382.96 L284.05,383.17 L284.67,383.37 L285.29,383.58 L285.91,383.79 L286.53,383.99 L287.15,384.20 L287.77,384.40 L288.38,384.61 L289.00,384.81 L289.62,385.01 L290.24,385.21 L290.86,385.42 L291.48,385.62 L292.10,385.82 L292.72,386.02 L293.34,386.22 L293.96,386.41 L294.57,386.61 L295.19,386.81 L295.81,387.01 L296.43,387.20 L297.05,387.40 L297.67,387.60 L298.29,387.79 L298.91,387.98 L299.53,388.18 L300.14,388.37 L300.76,388.56 L301.38,388.76 L302.00,388.95 L302.62,389.14 L303.24,389.33 L303.86,389.52 L304.48,389.71 L305.10,389.90 L305.72,390.09 L306.33,390.28 L306.95,390.46 L307.57,390.65 L308.19,390.84 L308.81,391.02 L309.43,391.21 L310.05,391.39 L310.67,391.58 L311.29,391.76 L311.91,391.95 L312.52,392.13 L313.14,392.31 L313.76,392.50 L314.38,392.68 L315.00,392.86 L315.62,393.04 L316.24,393.22 L316.86,393.40 L317.48,393.58 L318.10,393.76 L318.72,393.94 L319.33,394.12 L319.95,394.30 L320.57,394.47 L321.19,394.65 L321.81,394.83 L322.43,395.00 L323.05,395.18 L323.67,395.36 L324.29,395.53 L324.91,395.71 L325.52,395.88 L326.14,396.05 L326.76,396.23 L327.38,396.40 L328.00,396.57 L328.62,396.75 L329.24,396.92 L329.86,397.09 L330.48,397.26 L331.10,397.43 L331.71,397.60 L332.33,397.77 L332.95,397.94 L333.57,398.11 L334.19,398.28 L334.81,398.45 L335.43,398.62 L336.05,398.78 L336.67,398.95 L337.29,399.12 L337.90,399.29 L338.52,399.45 L339.14,399.62 L339.76,399.78 L340.38,399.95 L341.00,400.12 L341.62,400.28 L342.24,400.44 L342.86,400.61 L343.48,400.77 L344.09,400.94 L344.71,401.10 L345.33,401.26 L345.95,401.42 L346.57,401.59 L347.19,401.75 L347.81,401.91 L348.43,402.07 L349.05,402.23 L349.67,402.39 L350.28,402.55 L350.90,402.71 L351.52,402.87 L352.14,403.03 L352.76,403.19 L353.38,403.35 L354.00,403.51 L354.62,403.67 L355.24,403.82 L355.86,403.98 L356.47,404.14 L357.09,404.30 L357.71,404.45 L358.33,404.61 L358.95,404.77 L359.57,404.92 L360.19,405.08 L360.81,405.23 L361.43,405.39 L362.05,405.54 L362.66,405.70 L363.28,405.85 L363.90,406.01 L364.52,406.16 L365.14,406.31 L365.76,406.47 L366.38,406.62 L367.00,406.77 L367.62,406.93 L368.24,407.08 L368.85,407.23 L369.47,407.38 L370.09,407.54 L370.71,407.69 L371.33,407.84 L371.95,407.99 L372.57,408.14 L373.19,408.29 L373.81,408.44 L374.43,408.59 L375.04,408.74 L375.66,408.89 L376.28,409.04 L376.90,409.19 L377.52,409.34 L378.14,409.49 L378.76,409.64 L379.38,409.79 L380.00,409.94 L380.62,410.08 L381.23,410.23 L381.85,410.38 L382.47,410.53 L383.09,410.68 L383.71,410.82 L384.33,410.97 L384.95,411.12 L385.57,411.26 L386.19,411.41 L386.81,411.56 L387.42,411.70 L388.04,411.85 L388.66,412.00 L389.28,412.14 L389.90,412.29 L390.52,412.43 L391.14,412.58 L391.76,412.72 L392.38,412.87 L393.00,413.01 L393.61,413.16 L394.23,413.30 L394.85,413.45 L395.47,413.59 L396.09,413.74 L396.71,413.88 L397.33,414.03 L397.95,414.17 L398.57,414.31 L399.19,414.46 L399.80,414.60 L400.42,414.75 L401.04,414.89 L401.66,415.03 L402.28,415.18 L402.90,415.32 L403.52,415.46 L404.14,415.60 L404.76,415.75 L405.38,415.89 L405.99,416.03 L406.61,416.18 L407.23,416.32 L407.85,416.46 L408.47,416.60 L409.09,416.75 L409.71,416.89 L410.33,417.03 L410.95,417.17 L411.56,417.32 L412.18,417.46 L412.80,417.60 L413.42,417.74 L414.04,417.88 L414.66,418.03 L415.28,418.17 L415.90,418.31 L416.52,418.45 L417.14,418.59 L417.75,418.74 L418.37,418.88 L418.99,419.02 L419.61,419.16 L420.23,419.30 L420.85,419.45 L421.47,419.59 L422.09,419.73 L422.71,419.87 L423.33,420.02 L423.94,420.16 L424.56,420.30 L425.18,420.44 L425.80,420.58 L426.42,420.73 L427.04,420.87 L427.66,421.01 L428.28,421.15 L428.90,421.30 L429.52,421.44 L430.14,421.58 L430.75,421.73 L431.37,421.87 L431.99,422.01 L432.61,422.15 L433.23,422.30 L433.85,422.44 L434.47,422.58 L435.09,422.73 L435.71,422.87 L436.33,423.02 L436.94,423.16 L437.56,423.31 L438.18,423.45 L438.80,423.59 L439.42,423.74 L440.04,423.88 L440.66,424.03 L441.28,424.18 L441.90,424.32 L442.52,424.47 L443.13,424.61 L443.75,424.76 L444.37,424.91 L444.99,425.05 L445.61,425.20 L446.23,425.35 L446.85,425.50 L447.47,425.65 L448.09,425.79 L448.71,425.94 L449.32,426.09 L449.94,426.24 L450.56,426.39 L451.18,426.54 L451.80,426.70 L452.42,426.85 L453.04,427.00 L453.66,427.15 L454.28,427.30 L454.90,427.46 L455.51,427.61 L456.13,427.77 L456.75,427.92 L457.37,428.08 L457.99,428.23 L458.61,428.39 L459.23,428.55 L459.85,428.71 L460.47,428.87 L461.09,429.03 L461.70,429.19 L462.32,429.35 L462.94,429.51 L463.56,429.68 L464.18,429.84 L464.80,430.00 L465.42,430.17 L466.04,430.34 L466.66,430.51 L467.28,430.68 L467.89,430.85 L468.51,431.02 L469.13,431.19 L469.75,431.37 L470.37,431.55 L470.99,431.72 L471.61,431.91 L472.23,432.09 L472.85,432.27 L473.47,432.46 L474.08,432.64 L474.70,432.83 L475.32,433.03 L475.94,433.22 L476.56,433.42 L477.18,433.62 L477.80,433.83 L478.42,434.03 L479.04,434.24 L479.65,434.46 L480.27,434.68 L480.89,434.90 L481.51,435.13 L482.13,435.37 L482.75,435.61 L483.37,435.86 L483.99,436.12 L484.61,436.39 L485.23,436.67 L485.84,436.96 L486.46,437.27 L487.08,437.60 L487.70,437.96 L488.32,438.35 L488.94,438.80 L489.56,439.33" stroke="#D95319" stroke-width="1"/>
<path transform="scale(1,1.0)" d="M43.20,6.80h0 M44.00,12.75h0 M44.40,19.55h0 M45.20,25.50h0 M45.60,31.45h0 M46.40,37.40h0 M46.80,43.35h0 M47.60,48.45h0 M48.40,53.55h0 M48.80,58.65h0 M49.60,63.75h0 M50.00,68.85h0 M50.80,73.10h0 M51.20,77.35h0 M52.00,82.45h0 M52.40,86.70h0 M53.20,90.10h0 M53.60,94.35h0 M54.40,98.60h0 M55.20,102.00h0 M55.60,106.25h0 M56.40,109.65h0 M56.80,113.05h0 M57.60,116.45h0 M58.00,119.85h0 M58.80,123.25h0 M59.20,126.65h0 M60.00,129.20h0 M60.40,132.60h0 M61.20,135.15h0 M62.00,138.55h0 M62.40,141.10h0 M63.20,144.50h0 M63.60,147.05h0 M64.40,149.60h0 M64.80,152.15h0 M65.60,154.70h0 M66.00,157.25h0 M66.80,159.80h0 M67.60,162.35h0 M68.00,164.90h0 M68.80,166.60h0 M69.20,169.15h0 M70.00,171.70h0 M70.40,173.40h0 M71.20,175.95h0 M71.60,177.65h0 M72.40,180.20h0 M72.80,181.90h0 M73.60,184.45h0 M74.40,186.15h0 M74.80,187.85h0 M75.60,190.40h0 M76.00,192.10h0 M76.80,193.80h0 M77.20,195.50h0 M78.00,197.20h0 M78.40,198.90h0 M79.20,201.45h0 M79.60,203.15h0 M80.40,204.85h0 M81.20,206.55h0 M81.60,208.25h0 M82.40,209.10h0 M82.80,210.80h0 M83.60,212.50h0 M84.00,214.20h0 M84.80,215.90h0 M85.20,217.60h0 M86.00,218.45h0 M86.40,220.15h0 M87.20,221.85h0 M88.00,223.55h0 M88.40,224.40h0 M89.20,226.10h0 M89.60,226.95h0 M90.40,228.65h0 M90.80,230.35h0 M91.60,231.20h0 M92.00,232.90h0 M92.80,233.75h0 M93.20,235.45h0 M94.00,236.30h0 M94.80,238.00h0 M95.20,238.85h0 M96.00,240.55h0 M96.40,241.40h0 M97.20,243.10h0 M97.60,243.95h0 M98.40,244.80h0 M98.80,246.50h0 M99.60,247.35h0 M100.40,248.20h0 M100.80,249.90h0 M101.60,250.75h0 M102.00,251.60h0 M102.80,252.45h0 M103.20,254.15h0 M104.00,255.00h0 M104.40,255.85h0 M105.20,256.70h0 M105.60,258.40h0 M106.40,259.25h0 M107.20,260.10h0 M107.60,260.95h0 M108.40,261.80h0 M108.80,262.65h0 M109.60,264.35h0 M110.00,265.20h0 M110.80,266.05h0 M111.20,266.90h0 M112.00,267.75h0 M112.40,268.60h0 M113.20,269.45h0 M114.00,270.30h0 M114.40,271.15h0 M115.20,272.00h0 M115.60,272.85h0 M116.40,273.70h0 M116.80,274.55h0 M117.60,275.40h0 M118.00,276.25h0 M118.80,277.10h0 M119.20,277.95h0 M120.00,278.80h0 M120.80,279.65h0 M121.20,280.50h0 M122.00,281.35h0 M122.40,282.20h0 M123.20,283.05h0 M123.60,283.90h0 M124.40,284.75h0 M124.80,285.60h0 M125.60,285.60h0 M126.40,286.45h0 M126.80,287.30h0 M127.60,288.15h0 M128.00,289.00h0 M128.80,289.85h0 M129.20,290.70h0 M130.00,290.70h0 M130.40,291.55h0 M131.20,292.40h0 M131.60,293.25h0 M132.40,294.10h0 M133.20,294.95h0 M133.60,294.95h0 M134.40,295.80h0 M134.80,296.65h0 M135.60,297.50h0 M136.00,297.50h0 M136.80,298.35h0 M137.20,299.20h0 M138.00,300.05h0 M138.40,300.90h0 M139.20,300.90h0 M140.00,301.75h0 M140.40,302.60h0 M141.20,302.60h0 M141.60,303.45h0 M142.40,304.30h0 M142.80,305.15h0 M143.60,305.15h0 M144.00,306.00h0 M144.80,306.85h0 M145.20,306.85h0 M146.00,307.70h0 M146.80,308.55h0 M147.20,308.55h0 M148.00,309.40h0 M148.40,310.25h0 M149.20,310.25h0 M149.60,311.10h0 M150.40,311.95h0 M150.80,311.95h0 M151.60,312.80h0 M152.40,313.65h0 M152.80,313.65h0 M153.60,314.50h0 M154.00,315.35h0 M154.80,315.35h0 M155.20,316.20h0 M156.00,316.20h0 M156.40,317.05h0 M157.20,317.90h0 M157.60,317.90h0 M158.40,318.75h0 M159.20,318.75h0 M159.60,319.60h0 M160.40,320.45h0 M160.80,320.45h0 M161.60,321.30h0 M162.00,321.30h0 M162.80,322.15h0 M163.20,323.00h0 M164.00,323.00h0 M164.40,323.85h0 M165.20,323.85h0 M166.00,324.70h0 M166.40,324.70h0 M167.20,325.55h0 M167.60,325.55h0 M168.40,326.40h0 M168.80,327.25h0 M169.60,327.25h0 M170.00,328.10h0 M170.80,328.10h0 M171.20,328.95h0 M172.00,328.95h0 M172.80,329.80h0 M173.20,329.80h0 M174.00,330.65h0 M174.40,330.65h0 M175.20,331.50h0 M175.60,331.50h0 M176.40,332.35h0 M176.80,332.35h0 M177.60,333.20h0 M178.40,333.20h0 M178.80,334.05h0 M179.60,334.05h0 M180.00,334.90h0 M180.80,334.90h0 M181.20,335.75h0 M182.00,335.75h0 M182.40,336.60h0 M183.20,336.60h0 M183.60,337.45h0 M184.40,337.45h0 M185.20,338.30h0 M185.60,338.30h0 M186.40,338.30h0 M186.80,339.15h0 M187.60,339.15h0 M188.00,340.00h0 M188.80,340.00h0 M189.20,340.85h0 M190.00,340.85h0 M190.40,341.70h0 M191.20,341.70h0 M192.00,342.55h0 M192.40,342.55h0 M193.20,342.55h0 M193.60,343.40h0 M194.40,343.40h0 M194.80,344.25h0 M195.60,344.25h0 M196.00,345.10h0 M196.80,345.10h0 M197.20,345.10h0 M198.00,345.95h0 M198.80,345.95h0 M199.20,346.80h0 M200.00,346.80h0 M200.40,346.80h0 M201.20,347.65h0 M201.60,347.65h0 M202.40,348.50h0 M202.80,348.50h0 M203.60,348.50h0 M204.00,349.35h0 M204.80,349.35h0 M205.60,350.20h0 M206.00,350.20h0 M206.80,350.20h0 M207.20,351.05h0 M208.00,351.05h0 M208.40,351.90h0 M209.20,351.90h0 M209.60,351.90h0 M210.40,352.75h0 M211.20,352.75h0 M211.60,353.60h0 M212.40,353.60h0 M212.80,353.60h0 M213.60,354.45h0 M214.00,354.45h0 M214.80,354.45h0 M215.20,355.30h0 M216.00,355.30h0 M216.40,355.30h0 M217.20,356.15h0 M218.00,356.15h0 M218.40,357.00h0 M219.20,357.00h0 M219.60,357.00h0 M220.40,357.85h0 M220.80,357.85h0 M221.60,357.85h0 M222.00,358.70h0 M222.80,358.70h0 M223.20,358.70h0 M224.00,359.55h0 M224.80,359.55h0 M225.20,359.55h0 M226.00,360.40h0 M226.40,360.40h0 M227.20,360.40h0 M227.60,361.25h0 M228.40,361.25h0 M228.80,361.25h0 M229.60,362.10h0 M230.00,362.10h0 M230.80,362.10h0 M231.60,362.95h0 M232.00,362.95h0 M232.80,362.95h0 M233.20,363.80h0 M234.00,363.80h0 M234.40,363.80h0 M235.20,364.65h0 M235.60,364.65h0 M236.40,364.65h0 M237.20,365.50h0 M237.60,365.50h0 M238.40,365.50h0 M238.80,366.35h0 M239.60,366.35h0 M240.00,366.35h0 M240.80,367.20h0 M241.20,367.20h0 M242.00,367.20h0 M242.40,367.20h0 M243.20,368.05h0 M244.00,368.05h0 M244.40,368.05h0 M245.20,368.90h0 M245.60,368.90h0 M246.40,368.90h0 M246.80,369.75h0 M247.60,369.75h0 M248.00,369.75h0 M248.80,369.75h0 M249.20,370.60h0 M250.00,370.60h0 M250.80,370.60h0 M251.20,371.45h0 M252.00,371.45h0 M252.40,371.45h0 M253.20,372.30h0 M253.60,372.30h0 M254.40,372.30h0 M254.80,372.30h0 M255.60,373.15h0 M256.00,373.15h0 M256.80,373.15h0 M257.60,374.00h0 M258.00,374.00h0 M258.80,374.00h0 M259.20,374.00h0 M260.00,374.85h0 M260.40,374.85h0 M261.20,374.85h0 M261.60,374.85h0 M262.40,375.70h0 M263.20,375.70h0 M263.60,375.70h0 M264.40,376.55h0 M264.80,376.55h0 M265.60,376.55h0 M266.00,376.55h0 M266.80,377.40h0 M267.20,377.40h0 M268.00,377.40h0 M268.40,377.40h0 M269.20,378.25h0 M270.00,378.25h0 M270.40,378.25h0 M271.20,378.25h0 M271.60,379.10h0 M272.40,379.10h0 M272.80,379.10h0 M273.60,379.95h0 M274.00,379.95h0 M274.80,379.95h0 M275.20,379.95h0 M276.00,380.80h0 M276.80,380.80h0 M277.20,380.80h0 M278.00,380.80h0 M278.40,381.65h0 M279.20,381.65h0 M279.60,381.65h0 M280.40,381.65h0 M280.80,382.50h0 M281.60,382.50h0 M282.00,382.50h0 M282.80,382.50h0 M283.60,383.35h0 M284.00,383.35h0 M284.80,383.35h0 M285.20,383.35h0 M286.00,384.20h0 M286.40,384.20h0 M287.20,384.20h0 M287.60,384.20h0 M288.40,384.20h0 M289.20,385.05h0 M289.60,385.05h0 M290.40,385.05h0 M290.80,385.05h0 M291.60,385.90h0 M292.00,385.90h0 M292.80,385.90h0 M293.20,385.90h0 M294.00,386.75h0 M294.40,386.75h0 M295.20,386.75h0 M296.00,386.75h0 M296.40,387.60h0 M297.20,387.60h0 M297.60,387.60h0 M298.40,387.60h0 M298.80,387.60h0 M299.60,388.45h0 M300.00,388.45h0 M300.80,388.45h0 M301.20,388.45h0 M302.00,389.30h0 M302.80,389.30h0 M303.20,389.30h0 M304.00,389.30h0 M304.40,389.30h0 M305.20,390.15h0 M305.60,390.15h0 M306.40,390.15h0 M306.80,390.15h0 M307.60,391.00h0 M308.00,391.00h0 M308.80,391.00h0 M309.60,391.00h0 M310.00,391.00h0 M310.80,391.85h0 M311.20,391.85h0 M312.00,391.85h0 M312.40,391.85h0 M313.20,392.70h0 M313.60,392.70h0 M314.40,392.70h0 M315.20,392.70h0 M315.60,392.70h0 M316.40,393.55h0 M316.80,393.55h0 M317.60,393.55h0 M318.00,393.55h0 M318.80,393.55h0 M319.20,394.40h0 M320.00,394.40h0 M320.40,394.40h0 M321.20,394.40h0 M322.00,395.25h0 M322.40,395.25h0 M323.20,395.25h0 M323.60,395.25h0 M324.40,395.25h0 M324.80,396.10h0 M325.60,396.10h0 M326.00,396.10h0 M326.80,396.10h0 M327.20,396.10h0 M328.00,396.95h0 M328.80,396.95h0 M329.20,396.95h0 M330.00,396.95h0 M330.40,396.95h0 M331.20,397.80h0 M331.60,397.80h0 M332.40,397.80h0 M332.80,397.80h0 M333.60,397.80h0 M334.00,398.65h0 M334.80,398.65h0 M335.60,398.65h0 M336.00,398.65h0 M336.80,398.65h0 M337.20,399.50h0 M338.00,399.50h0 M338.40,399.50h0 M339.20,399.50h0 M339.60,399.50h0 M340.40,400.35h0 M340.80,400.35h0 M341.60,400.35h0 M342.40,400.35h0 M342.80,400.35h0 M343.60,400.35h0 M344.00,401.20h0 M344.80,401.20h0 M345.20,401.20h0 M346.00,401.20h0 M346.40,401.20h0 M347.20,402.05h0 M348.00,402.05h0 M348.40,402.05h0 M349.20,402.05h0 M349.60,402.05h0 M350.40,402.90h0 M350.80,402.90h0 M351.60,402.90h0 M352.00,402.90h0 M352.80,402.90h0 M353.20,403.75h0 M354.00,403.75h0 M354.80,403.75h0 M355.20,403.75h0 M356.00,403.75h0 M356.40,403.75h0 M357.20,404.60h0 M357.60,404.60h0 M358.40,404.60h0 M358.80,404.60h0 M359.60,404.60h0 M360.00,405.45h0 M360.80,405.45h0 M361.60,405.45h0 M362.00,405.45h0 M362.80,405.45h0 M363.20,405.45h0 M364.00,406.30h0 M364.40,406.30h0 M365.20,406.30h0 M365.60,406.30h0 M366.40,406.30h0 M366.80,407.15h0 M367.60,407.15h0 M368.40,407.15h0 M368.80,407.15h0 M369.60,407.15h0 M370.00,407.15h0 M370.80,408.00h0 M371.20,408.00h0 M372.00,408.00h0 M372.40,408.00h0 M373.20,408.00h0 M374.00,408.85h0 M374.40,408.85h0 M375.20,408.85h0 M375.60,408.85h0 M376.40,408.85h0 M376.80,408.85h0 M377.60,409.70h0 M378.00,409.70h0 M378.80,409.70h0 M379.20,409.70h0 M380.00,409.70h0 M380.80,409.70h0 M381.20,410.55h0 M382.00,410.55h0 M382.40,410.55h0 M383.20,410.55h0 M383.60,410.55h0 M384.40,410.55h0 M384.80,411.40h0 M385.60,411.40h0 M386.00,411.40h0 M386.80,411.40h0 M387.60,411.40h0 M388.00,412.25h0 M388.80,412.25h0 M389.20,412.25h0 M390.00,412.25h0 M390.40,412.25h0 M391.20,412.25h0 M391.60,413.10h0 M392.40,413.10h0 M392.80,413.10h0 M393.60,413.10h0 M394.40,413.10h0 M394.80,413.10h0 M395.60,413.95h0 M396.00,413.95h0 M396.80,413.95h0 M397.20,413.95h0 M398.00,413.95h0 M398.40,413.95h0 M399.20,414.80h0 M400.00,414.80h0 M400.40,414.80h0 M401.20,414.80h0 M401.60,414.80h0 M402.40,414.80h0 M402.80,415.65h0 M403.60,415.65h0 M404.00,415.65h0 M404.80,415.65h0 M405.20,415.65h0 M406.00,415.65h0 M406.80,416.50h0 M407.20,416.50h0 M408.00,416.50h0 M408.40,416.50h0 M409.20,416.50h0 M409.60,416.50h0 M410.40,417.35h0 M410.80,417.35h0 M411.60,417.35h0 M412.00,417.35h0 M412.80,417.35h0 M413.60,417.35h0 M414.00,418.20h0 M414.80,418.20h0 M415.20,418.20h0 M416.00,418.20h0 M416.40,418.20h0 M417.20,418.20h0 M417.60,419.05h0 M418.40,419.05h0 M418.80,419.05h0 M419.60,419.05h0 M420.40,419.05h0 M420.80,419.05h0 M421.60,419.90h0 M422.00,419.90h0 M422.80,419.90h0 M423.20,419.90h0 M424.00,419.90h0 M424.40,419.90h0 M425.20,420.75h0 M426.00,420.75h0 M426.40,420.75h0 M427.20,420.75h0 M427.60,420.75h0 M428.40,420.75h0 M428.80,421.60h0 M429.60,421.60h0 M430.00,421.60h0 M430.80,421.60h0 M431.20,421.60h0 M432.00,421.60h0 M432.80,422.45h0 M433.20,422.45h0 M434.00,422.45h0 M434.40,422.45h0 M435.20,422.45h0 M435.60,422.45h0 M436.40,423.30h0 M436.80,423.30h0 M437.60,423.30h0 M438.00,423.30h0 M438.80,423.30h0 M439.60,424.15h0 M440.00,424.15h0 M440.80,424.15h0 M441.20,424.15h0 M442.00,424.15h0 M442.40,424.15h0 M443.20,425.00h0 M443.60,425.00h0 M444.40,425.00h0 M444.80,425.00h0 M445.60,425.00h0 M446.40,425.00h0 M446.80,425.85h0 M447.60,425.85h0 M448.00,425.85h0 M448.80,425.85h0 M449.20,425.85h0 M450.00,425.85h0 M450.40,426.70h0 M451.20,426.70h0 M452.00,426.70h0 M452.40,426.70h0 M453.20,426.70h0 M453.60,427.55h0 M454.40,427.55h0 M454.80,427.55h0 M455.60,427.55h0 M456.00,427.55h0 M456.80,427.55h0 M457.20,428.40h0 M458.00,428.40h0 M458.80,428.40h0 M459.20,428.40h0 M460.00,428.40h0 M460.40,429.25h0 M461.20,429.25h0 M461.60,429.25h0 M462.40,429.25h0 M462.80,429.25h0 M463.60,430.10h0 M464.00,430.10h0 M464.80,430.10h0 M465.60,430.10h0 M466.00,430.10h0 M466.80,430.10h0 M467.20,430.95h0 M468.00,430.95h0 M468.40,430.95h0 M469.20,430.95h0 M469.60,430.95h0 M470.40,431.80h0 M470.80,431.80h0 M471.60,431.80h0 M472.40,431.80h0 M472.80,432.65h0 M473.60,432.65h0 M474.00,432.65h0 M474.80,432.65h0 M475.20,432.65h0 M476.00,433.50h0 M476.40,433.50h0 M477.20,433.50h0 M477.60,433.50h0 M478.40,434.35h0 M479.20,434.35h0 M479.60,434.35h0 M480.40,434.35h0 M480.80,435.20h0 M481.60,435.20h0 M482.00,435.20h0 M482.80,435.20h0 M483.20,436.05h0 M484.00,436.05h0 M484.80,436.05h0 M485.20,436.90h0 M486.00,436.90h0 M486.40,436.90h0 M487.20,437.75h0 M487.60,437.75h0 M488.40,438.60h0 M488.80,438.60h0 M489.60,439.45h0" stroke="#D95319" stroke-width="4.05" stroke-linecap="round"/>
</g>
<g stroke="#0d0d0d" fill="none" stroke-dasharray="11.5 6.75">
<path d="M18.5,463.00H637.5" stroke-width="1.36"/>
<path d="M489.50,494.0V6.0" stroke-width="1.05"/>
</g>
<path d="M12.80,463.00L24.20,463.00 M14.47,458.97L22.53,467.03 M18.50,457.30L18.50,468.70 M22.53,458.97L14.47,467.03" stroke="#000" stroke-width="1.1" fill="none"/>
<text class="t" x="18.50" y="521.4" text-anchor="middle">0</text>
<text class="t" x="142.30" y="521.4" text-anchor="middle">0.01</text>
<text class="t" x="266.10" y="521.4" text-anchor="middle">0.02</text>
<text class="t" x="389.90" y="521.4" text-anchor="middle">0.03</text>
<text class="t" x="513.70" y="521.4" text-anchor="middle">0.04</text>
<text class="t" x="637.50" y="521.4" text-anchor="middle">0.05</text>
<text class="t" x="10.2" y="501.55" text-anchor="end">0</text>
<text class="t" x="10.2" y="440.55" text-anchor="end">1</text>
<text class="t" x="10.2" y="379.55" text-anchor="end">2</text>
<text class="t" x="10.2" y="318.55" text-anchor="end">3</text>
<text class="t" x="10.2" y="257.55" text-anchor="end">4</text>
<text class="t" x="10.2" y="196.55" text-anchor="end">5</text>
<text class="t" x="10.2" y="135.55" text-anchor="end">6</text>
<text class="t" x="10.2" y="74.55" text-anchor="end">7</text>
<text class="t" x="10.2" y="13.55" text-anchor="end">8</text>
<g transform="translate(308,528) scale(0.0610687)" fill="none" stroke="#222" stroke-linecap="round" stroke-linejoin="round">
<path d="M249,242 C256,214 270,194 286,194 M296,230 C312,205 340,190 368,190" stroke-width="11"/>
<path d="M286,194 C299,194 298,208 295,225 L278,337 M368,190 C398,190 410,204 404,232 L359,405" stroke-width="21"/>
</g>
<text x="31.3" y="449.7" font-size="19.35">E</text>
<text x="45.0" y="439.0" font-size="14.5">*</text>
<rect x="531.5" y="21.0" width="91.10" height="75.05" fill="#fff" stroke="none"/>
<g stroke="#262626" fill="none"><path d="M531.0,21.0H623.2 M531.0,96.05H623.2" stroke-width="1.25"/><path d="M531.5,21.0V96.05" stroke-width="1"/><path d="M622.6,21.0V96.05" stroke-width="1.25"/></g>
<path d="M537.2,41.0H594.5" stroke="#0072BD" stroke-width="1" fill="none"/>
<circle cx="565.8" cy="41.0" r="1.95" fill="#0072BD"/>
<text x="599.4" y="47.9" font-size="17">u</text>
<text x="609.3" y="55.0" font-size="13.5">1</text>
<text x="609.3" y="36.9" font-size="11.5">*</text>
<path d="M537.2,76.3H594.5" stroke="#D95319" stroke-width="1" fill="none"/>
<circle cx="565.8" cy="76.3" r="1.95" fill="#D95319"/>
<text x="599.4" y="83.2" font-size="17">u</text>
<text x="609.3" y="89.7" font-size="13.5">2</text>
<text x="609.3" y="72.2" font-size="11.5">*</text>
</svg></body></html>
